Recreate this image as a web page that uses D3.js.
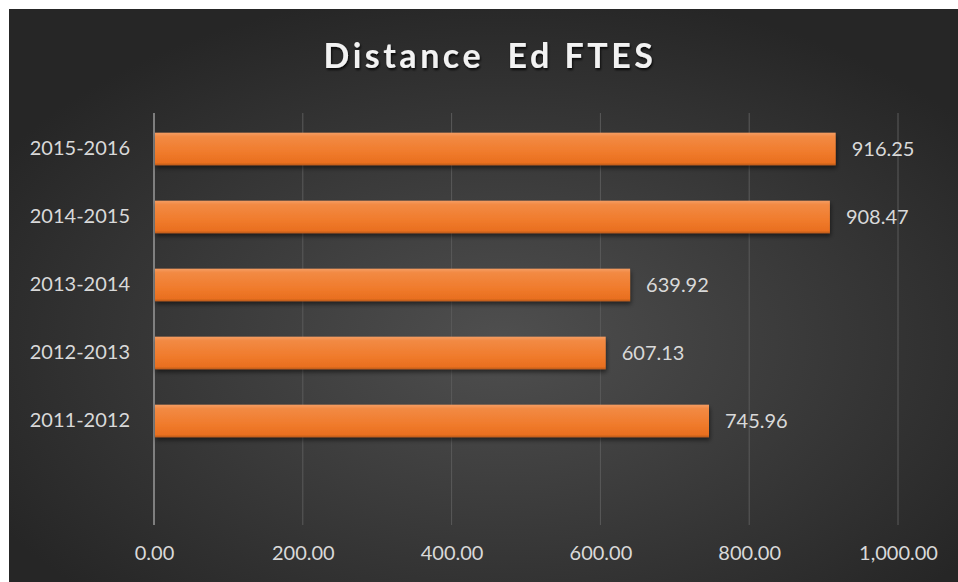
<!DOCTYPE html>
<html>
<head>
<meta charset="utf-8">
<script src="https://cdn.jsdelivr.net/npm/d3@7"></script>
<style>
  html, body { margin: 0; padding: 0; background: #fff; }
  svg { display: block; }
  text { font-family: Lato, "Open Sans", sans-serif; }
</style>
</head>
<body>
<div id="app"></div>
<script>
const CATEGORIES = ['2015-2016', '2014-2015', '2013-2014', '2012-2013', '2011-2012'];
const VALUES = [916.25, 908.47, 639.92, 607.13, 745.96];
const X_TICKS = [0, 200, 400, 600, 800, 1000];
const TITLE = 'Distance  Ed FTES';

const W = 958, H = 582;
const plot = {left: 154, right: 898, top: 115, bottom: 523};
const band = (plot.bottom - plot.top) / 6; // one empty slot below the last bar

const svg = d3.select('#app').append('svg')
    .attr('width', W)
    .attr('height', H);

const defs = svg.append('defs');

const bg = defs.append('radialGradient')
    .attr('id', 'bg')
    .attr('cx', '52%').attr('cy', '58%')
    .attr('r', '62%');
bg.append('stop').attr('offset', '0%').attr('stop-color', '#4f4f4f');
bg.append('stop').attr('offset', '100%').attr('stop-color', '#262626');

const barGrad = defs.append('linearGradient')
    .attr('id', 'bar')
    .attr('x1', 0).attr('y1', 0).attr('x2', 0).attr('y2', 1);
barGrad.append('stop').attr('offset', '0%').attr('stop-color', '#f59d62');
barGrad.append('stop').attr('offset', '12%').attr('stop-color', '#f28a44');
barGrad.append('stop').attr('offset', '60%').attr('stop-color', '#f07b2c');
barGrad.append('stop').attr('offset', '92%').attr('stop-color', '#e96f1f');
barGrad.append('stop').attr('offset', '100%').attr('stop-color', '#b85a18');

const shadow = defs.append('filter')
    .attr('id', 'shadow')
    .attr('x', '-5%').attr('y', '-30%')
    .attr('width', '110%').attr('height', '180%');
shadow.append('feDropShadow')
    .attr('dx', 1).attr('dy', 3)
    .attr('stdDeviation', 2)
    .attr('flood-color', '#000')
    .attr('flood-opacity', 0.5);

const titleShadow = defs.append('filter')
    .attr('id', 'tshadow');
titleShadow.append('feDropShadow')
    .attr('dx', 1).attr('dy', 2)
    .attr('stdDeviation', 1.2)
    .attr('flood-color', '#000')
    .attr('flood-opacity', 0.8);

// background panel (white frame top/left)
svg.append('rect')
    .attr('x', 9).attr('y', 9)
    .attr('width', W - 9).attr('height', H - 9)
    .attr('fill', 'url(#bg)');

const x = d3.scaleLinear()
    .domain([0, 1000])
    .range([plot.left, plot.right]);

const y = d3.scaleBand()
    .domain(CATEGORIES)
    .range([plot.top, plot.top + band * CATEGORIES.length])
    .paddingInner(0.52)
    .paddingOuter(0.26);

// gridlines
svg.append('g')
    .selectAll('line')
    .data(X_TICKS)
  .enter().append('line')
    .attr('x1', d => x(d)).attr('x2', d => x(d))
    .attr('y1', plot.top - 2).attr('y2', plot.bottom + 2)
    .attr('stroke', d => d === 0 ? '#9a9a9a' : '#5a5a5a')
    .attr('stroke-width', d => d === 0 ? 1.5 : 1);

// x axis labels
const xAxis = d3.axisBottom(x)
    .tickValues(X_TICKS)
    .tickSize(0)
    .tickPadding(0)
    .tickFormat(d3.format(',.2f'));

svg.append('g')
    .attr('transform', `translate(0, ${plot.bottom + 23})`)
    .call(xAxis)
    .call(g => g.select('.domain').remove())
    .call(g => g.selectAll('text')
        .attr('fill', '#d9d9d9')
        .attr('font-size', 20)
        .attr('dy', '0.71em'));

// y axis labels
const yAxis = d3.axisLeft(y)
    .tickSize(0)
    .tickPadding(24);

svg.append('g')
    .attr('transform', `translate(${plot.left}, 0)`)
    .call(yAxis)
    .call(g => g.select('.domain').remove())
    .call(g => g.selectAll('text')
        .attr('fill', '#d9d9d9')
        .attr('font-size', 20));

// bars
svg.append('g')
    .selectAll('rect')
    .data(VALUES)
  .enter().append('rect')
    .attr('x', x(0) + 1)
    .attr('y', (d, i) => y(CATEGORIES[i]))
    .attr('width', d => x(d) - x(0) - 1)
    .attr('height', y.bandwidth())
    .attr('fill', 'url(#bar)')
    .attr('filter', 'url(#shadow)');

// value labels
svg.append('g')
    .selectAll('text')
    .data(VALUES)
  .enter().append('text')
    .attr('x', d => x(d) + 16)
    .attr('y', (d, i) => y(CATEGORIES[i]) + y.bandwidth() / 2)
    .attr('dy', '0.35em')
    .attr('fill', '#d9d9d9')
    .attr('font-size', 20)
    .text(d => d3.format('.2f')(d));

// title
svg.append('text')
    .attr('x', 490)
    .attr('y', 68)
    .attr('text-anchor', 'middle')
    .attr('fill', '#f2f2f2')
    .attr('font-size', 34)
    .attr('font-weight', 'bold')
    .attr('letter-spacing', 3.5)
    .attr('filter', 'url(#tshadow)')
    .style('white-space', 'pre')
    .text(TITLE);
</script>
</body>
</html>
